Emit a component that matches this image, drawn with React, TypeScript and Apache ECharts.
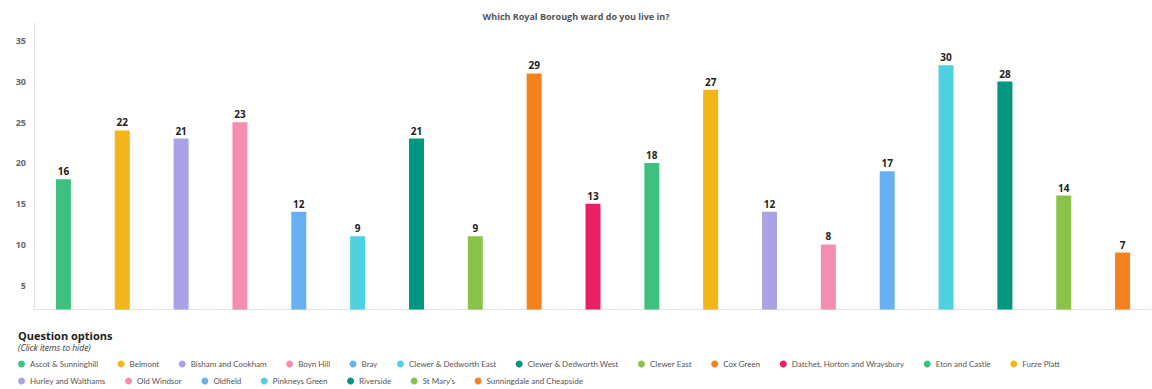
import React, { useEffect, useRef } from "react";
import * as echarts from "echarts";

const wards = [
  "Ascot & Sunninghill",
  "Belmont",
  "Bisham and Cookham",
  "Boyn Hill",
  "Bray",
  "Clewer & Dedworth East",
  "Clewer & Dedworth West",
  "Clewer East",
  "Cox Green",
  "Datchet, Horton and Wraysbury",
  "Eton and Castle",
  "Furze Platt",
  "Hurley and Walthams",
  "Old Windsor",
  "Oldfield",
  "Pinkneys Green",
  "Riverside",
  "St Mary's",
  "Sunningdale and Cheapside",
];

const counts = [16, 22, 21, 23, 12, 9, 21, 9, 29, 13, 18, 27, 12, 8, 17, 30, 28, 14, 7];

const palette = [
  "#3ec17f",
  "#f3b61a",
  "#aaa2e6",
  "#f38eb1",
  "#67b1f2",
  "#4fd1e2",
  "#00967f",
  "#8bc34a",
  "#f5821f",
  "#e91e63",
];

// axis tick labels as printed in the original (offset by 2 from the counts scale)
const tickLabels = [5, 10, 15, 20, 25, 30, 35];
const tickOffset = 2;

const title = "Which Royal Borough ward do you live in?";
const legendTitle = "Question options";
const legendHint = "(Click items to hide)";

export default function App() {
  const ref = useRef<HTMLDivElement>(null);
  useEffect(() => {
    if (!ref.current) return;
    const chart = echarts.init(ref.current, undefined, { renderer: "svg" });
    const font = "'Open Sans', sans-serif";
    const legendFont = "Lato, sans-serif";
    const series = wards.map((name, i) => ({
      name,
      type: "bar",
      stack: "all",
      barWidth: 15,
      itemStyle: { color: palette[i % palette.length] },
      label: {
        show: true,
        position: "top",
        distance: 3,
        color: "#222",
        fontSize: 10,
        fontWeight: "bold",
        fontFamily: font,
      },
      data: counts.map((v, j) => (j === i ? v : "-")),
    }));
    const legendBase = {
      icon: "circle",
      itemWidth: 7,
      itemHeight: 7,
      itemGap: 19.5,
      orient: "horizontal",
      left: 18,
      width: 1130,
      padding: 0,
      textStyle: { fontSize: 8, lineHeight: 9, color: "#555", fontFamily: legendFont },
    };
    chart.setOption({
      animation: false,
      title: {
        text: title,
        left: "center",
        top: 7,
        textStyle: { fontSize: 9, fontWeight: "bold", color: "#555", fontFamily: font },
      },
      graphic: [
        {
          type: "text",
          left: 18,
          top: 330,
          style: { text: legendTitle, fontSize: 11, fontWeight: "bold", fill: "#222", fontFamily: font },
        },
        {
          type: "text",
          left: 18,
          top: 343,
          style: { text: legendHint, fontSize: 8.5, fontStyle: "italic", fill: "#333", fontFamily: font },
        },
      ],
      legend: [
        { ...legendBase, top: 359.5, data: wards.slice(0, 12) },
        { ...legendBase, top: 376.5, data: wards.slice(12) },
      ],
      grid: { left: 34, top: 23, width: 1123, height: 286.5, containLabel: false },
      xAxis: {
        type: "category",
        data: wards,
        axisLine: { show: true, lineStyle: { color: "#dfe3e8" } },
        axisTick: { show: false },
        axisLabel: { show: false },
      },
      yAxis: {
        type: "value",
        min: 0,
        max: 35.2,
        axisLine: { show: true, lineStyle: { color: "#e3e3e3" } },
        axisTick: { show: false },
        splitLine: { show: false },
        axisLabel: {
          customValues: tickLabels.map((t) => t - tickOffset),
          formatter: (v: number) => String(Math.round(v + tickOffset)),
          color: "#666",
          fontSize: 9,
          fontWeight: "bold",
          fontFamily: font,
          margin: 8,
        },
      },
      series,
    });
    return () => chart.dispose();
  }, []);
  return (
    <div
      ref={ref}
      style={{ position: "fixed", left: 0, top: 0, width: 1152, height: 389, background: "#fff" }}
    />
  );
}
